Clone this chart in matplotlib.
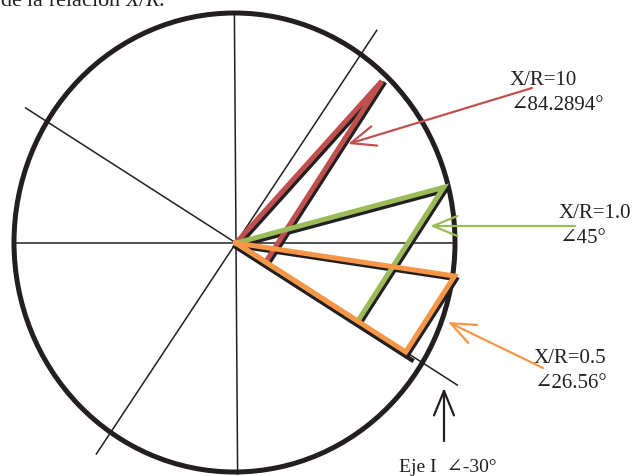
import numpy as np
import matplotlib
matplotlib.use('Agg')
import matplotlib.pyplot as plt
from matplotlib.patches import Ellipse
from matplotlib.transforms import ScaledTranslation

plt.rcParams['font.family'] = ['Liberation Serif', 'DejaVu Serif']
plt.rcParams['mathtext.fontset'] = 'custom'
plt.rcParams['mathtext.rm'] = 'Liberation Serif'
plt.rcParams['mathtext.it'] = 'Liberation Serif:italic'

# X/R cases (labels) and the phasors as drawn in the sketch
xr_labels = ['X/R=10', 'X/R=1.0', 'X/R=0.5']
ang_labels = ['∠84.2894°', '∠45°', '∠26.56°']
v_ang = [48, 15, -8.6]        # voltage phasor angle (deg, as drawn)
v_mag = [218, 215, 221]       # phasor length (px)
colores = ['#C0504D', '#9BBB59', '#F79646']
eje_i = -32.7                 # current axis as drawn ("Eje I -30")

# reference lines through the origin
ejes_ang = [0, 90.4, 56.5, -32.7]
ejes_neg = [221, 231, 253, 250]
ejes_pos = [217, 228, 255, 263]

INK = '#231F20'

fig = plt.figure(figsize=(6.34, 4.77), dpi=100)
ax = fig.add_axes([0, 0, 1, 1])
ax.set_xlim(-236, 398)
ax.set_ylim(-233, 244)
ax.axis('off')


def u(a):
    a = np.radians(a)
    return np.array([np.cos(a), np.sin(a)])


# thin axis lines
for a, rn, rp in zip(ejes_ang, ejes_neg, ejes_pos):
    p0, p1 = -rn * u(a), rp * u(a)
    ax.plot([p0[0], p1[0]], [p0[1], p1[1]], color=INK, lw=1.1, zorder=2)

ax.add_patch(Ellipse((-1.5, 0.5), 441, 459, fill=False, lw=3.6, ec=INK, zorder=3))

shadow = ax.transData + ScaledTranslation(2 / 100, -3 / 100, fig.dpi_scale_trans)
shadow_i = ax.transData + ScaledTranslation(-1 / 100, -3.5 / 100, fig.dpi_scale_trans)

tips, feet = [], []
for a, m in zip(v_ang, v_mag):
    tip = m * u(a)
    foot = m * np.cos(np.radians(a - eje_i)) * u(eje_i)
    tips.append(tip)
    feet.append(foot)
    # black copy of the phasor, slightly offset
    t2 = 0.96 * tip
    ax.plot([0, t2[0]], [0, t2[1]], color=INK, lw=3.2, transform=shadow, zorder=4)
    ax.plot([tip[0], foot[0]], [tip[1], foot[1]], color=INK, lw=3.2, transform=shadow, zorder=4)

# heavy black current axis
fi = 210 * u(eje_i)
ax.plot([0, fi[0]], [0, fi[1]], color=INK, lw=3.2, transform=shadow_i, zorder=5)

# coloured triangles: green, orange, red (red on top)
for k in [1, 2, 0]:
    tip, foot = tips[k], feet[k]
    ax.plot([0, tip[0], foot[0], 0], [0, tip[1], foot[1], 0],
            color=colores[k], lw=3.6, solid_joinstyle='miter', zorder=6 + k)

# labels
lab_pos = [(274, 159), (323, 26), (298, -119)]
for (x, y), t1, t2, c in zip(lab_pos, xr_labels, ang_labels, colores):
    ax.text(x, y, t1, fontsize=15, color=INK, va='baseline', ha='left', zorder=10)
    ax.text(x, y - 25, t2, fontsize=15, color=INK, va='baseline', ha='left', zorder=10)

ax.text(163, -228, 'Eje I  ∠-30°', fontsize=14, color=INK, va='baseline', ha='left')
ax.text(-236, 238, 'de la relación $X/R$.', fontsize=16, color=INK, va='baseline', ha='left')

# arrows
flechas = [((296, 155), (112, 99), colores[0]),
           ((339, 17), (194, 17), colores[1]),
           ((307, -125), (212, -79), colores[2]),
           ((208, -198), (208, -145), INK)]
for start, end, c in flechas:
    ax.annotate('', xy=end, xytext=start,
                arrowprops=dict(arrowstyle='->,head_length=1.1,head_width=0.45',
                                color=c, lw=1.6, shrinkA=0, shrinkB=0,
                                mutation_scale=16), zorder=9)

fig.savefig('out.png', dpi=100)
